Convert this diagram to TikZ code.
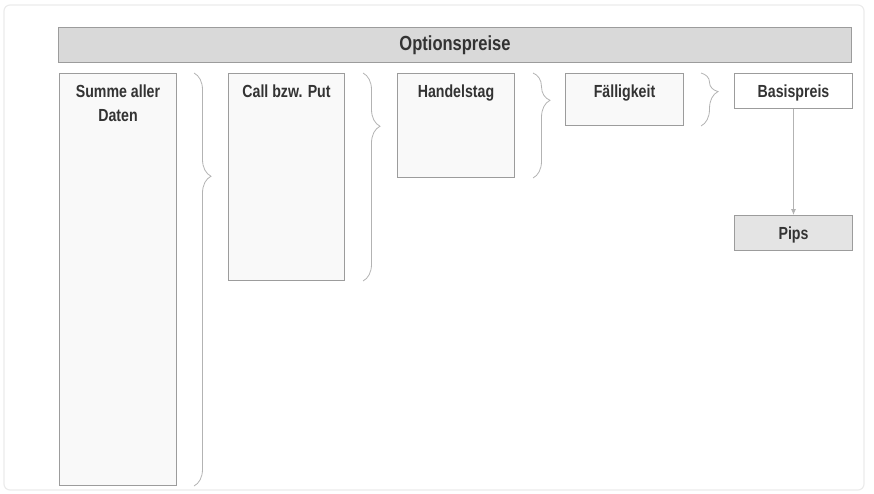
\documentclass[tikz,border=0pt]{standalone}
\usepackage{fontspec}
\setmainfont{Liberation Sans}[FakeStretch=0.81]
\usetikzlibrary{arrows.meta,calc,decorations.pathreplacing}
\definecolor{optFrame}{HTML}{EBEBEB}
\definecolor{optLine}{HTML}{9C9C9C}
\definecolor{optBar}{HTML}{D9D9D9}
\definecolor{optPaper}{HTML}{F9F9F9}
\definecolor{optShade}{HTML}{E4E4E4}
\definecolor{optBrace}{HTML}{B3B3B3}
\definecolor{optText}{HTML}{333333}
\tikzset{
  frame/.style={
    draw=optFrame,
    rounded corners=6pt,
    line width=1.2pt
  },
  titlebar/.style={
    draw=optLine,
    fill=optBar,
    line width=1pt,
    anchor=north west,
    inner sep=0pt
  },
  titletext/.style={
    text=optText,
    font=\bfseries\fontsize{20.4}{24}\selectfont
  },
  box/.style={
    draw=optLine,
    fill=optPaper,
    line width=1pt,
    anchor=north west,
    inner sep=0pt
  },
  boxtext/.style={
    anchor=north,
    inner sep=0pt,
    yshift=-12pt,
    align=center,
    text=optText,
    font=\bfseries\fontsize{17.5}{24}\selectfont
  },
  bracket/.style={
    decorate,
    decoration={brace, amplitude=17pt, aspect=#1},
    draw=optBrace,
    line width=0.8pt
  },
  arrow/.style={-{Latex[length=6pt,width=5pt]}, line width=0.8pt, draw=optBrace}
}

\begin{document}
\begin{tikzpicture}[x=1pt, y=-1pt]
  \useasboundingbox (0,0) rectangle (874,493);
  \draw[frame] (4,5) rectangle (864,490);

  \node[titlebar, minimum width=793, minimum height=35] (title) at (58,27) {};
  \node[titletext] (titlelabel) at (title.center) {Optionspreise};

  \node[box, minimum width=117, minimum height=412,
    label={[boxtext]north:{Summe aller\\Daten}}] (summe) at (59,73) {};
  \node[box, minimum width=116, minimum height=207,
    label={[boxtext]north:{Call bzw. Put}}] (callput) at (228,73) {};
  \node[box, minimum width=117, minimum height=104,
    label={[boxtext]north:{Handelstag}}] (handelstag) at (397,73) {};
  \node[box, minimum width=118, minimum height=52,
    label={[boxtext]north:{Fälligkeit}}] (faelligkeit) at (565,73) {};
  \node[box, fill=white, minimum width=118, minimum height=35,
    label={[boxtext]north:{Basispreis}}] (basispreis) at (734,73) {};
  \node[box, fill=optShade, minimum width=118, minimum height=35,
    label={[boxtext]north:{Pips}}] (pips) at (734,215) {};

  % braces point to the middle of the next box
  \draw[bracket=0.25] ($(summe.north east)+(17,0)$) -- ($(summe.south east)+(17,0)$);
  \draw[bracket=0.256] ($(callput.north east)+(18,0)$) -- ($(callput.south east)+(18,0)$);
  \draw[bracket=0.26] ($(handelstag.north east)+(18,0)$) -- ($(handelstag.south east)+(18,0)$);
  \draw[bracket=0.35] ($(faelligkeit.north east)+(17,0)$) -- ($(faelligkeit.south east)+(17,0)$);

  \draw[arrow] (basispreis) -- (pips);
\end{tikzpicture}
\end{document}
